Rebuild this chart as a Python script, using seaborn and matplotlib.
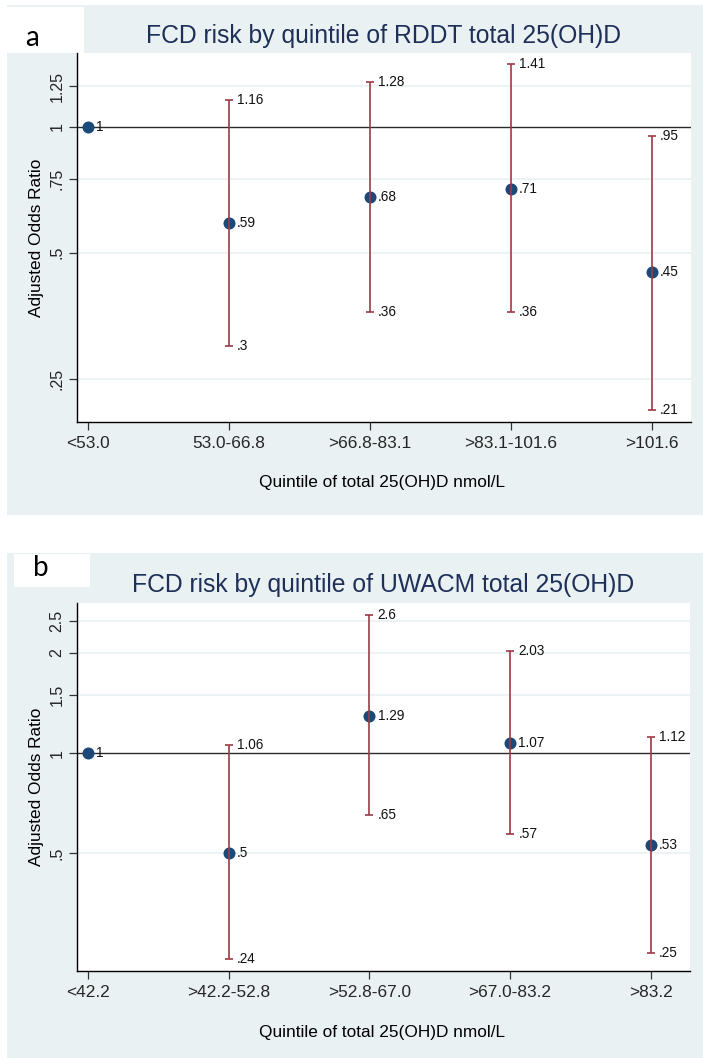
import numpy as np
import pandas as pd
import matplotlib
matplotlib.use("Agg")
import matplotlib.pyplot as plt
from matplotlib.patches import Rectangle
import seaborn as sns

# ---- data -------------------------------------------------------------
cats_a = ["<53.0", "53.0-66.8", ">66.8-83.1", ">83.1-101.6", ">101.6"]
or_a = [1.0, 0.59, 0.68, 0.71, 0.45]
lo_a = [None, 0.30, 0.36, 0.36, 0.21]
hi_a = [None, 1.16, 1.28, 1.41, 0.95]
lbl_or_a = ["1", ".59", ".68", ".71", ".45"]
lbl_lo_a = [None, ".3", ".36", ".36", ".21"]
lbl_hi_a = [None, "1.16", "1.28", "1.41", ".95"]
yticks_a = [0.25, 0.5, 0.75, 1.0, 1.25]
yticklabels_a = [".25", ".5", ".75", "1", "1.25"]

cats_b = ["<42.2", ">42.2-52.8", ">52.8-67.0", ">67.0-83.2", ">83.2"]
or_b = [1.0, 0.50, 1.29, 1.07, 0.53]
lo_b = [None, 0.24, 0.65, 0.57, 0.25]
hi_b = [None, 1.06, 2.60, 2.03, 1.12]
lbl_or_b = ["1", ".5", "1.29", "1.07", ".53"]
lbl_lo_b = [None, ".24", ".65", ".57", ".25"]
lbl_hi_b = [None, "1.06", "2.6", "2.03", "1.12"]
yticks_b = [0.5, 1.0, 1.5, 2.0, 2.5]
yticklabels_b = [".5", "1", "1.5", "2", "2.5"]

titles = ["FCD risk by quintile of RDDT total 25(OH)D",
          "FCD risk by quintile of UWACM total 25(OH)D"]
panel_tags = ["a", "b"]
xlabel = "Quintile of total 25(OH)D nmol/L"
ylabel = "Adjusted Odds Ratio"

# ---- style ------------------------------------------------------------
sns.set_theme(style="white")
plt.rcParams["font.family"] = ["Liberation Sans", "DejaVu Sans"]

BG = "#EAF1F3"
GRID = "#EBF2F5"
NAVY = "#1B4A78"
MAROON = "#9E3A46"
TITLE_C = "#1E2F58"

W, H = 703, 1059
fig = plt.figure(figsize=(W / 100, H / 100), dpi=100)
fig.patch.set_facecolor("white")


def fx(px):
    return px / W


def fy(py):
    return 1 - py / H


def add_rect(x0, y0, x1, y1, color, z):
    fig.patches.append(Rectangle((fx(x0), fy(y1)), fx(x1) - fx(x0), fy(y0) - fy(y1),
                                 transform=fig.transFigure, facecolor=color,
                                 edgecolor="none", zorder=z))


panels = [
    dict(cats=cats_a, orr=or_a, lo=lo_a, hi=hi_a, l_or=lbl_or_a, l_lo=lbl_lo_a,
         l_hi=lbl_hi_a, yt=yticks_a, ytl=yticklabels_a, ylim=(0.197, 1.50),
         bg=(7, 5, 703, 515), tagbox=(7, 7, 84, 53), tagxy=(32, 38),
         ax=(77, 53, 691, 422), title_y=36, xlabel_y=483),
    dict(cats=cats_b, orr=or_b, lo=lo_b, hi=hi_b, l_or=lbl_or_b, l_lo=lbl_lo_b,
         l_hi=lbl_hi_b, yt=yticks_b, ytl=yticklabels_b, ylim=(0.221, 2.83),
         bg=(7, 553, 703, 1058), tagbox=(14, 554, 90, 587), tagxy=(41, 568),
         ax=(77, 603, 690, 971), title_y=585, xlabel_y=1033),
]

for i, p in enumerate(panels):
    add_rect(*p["bg"], BG, -10)
    add_rect(*p["tagbox"], "white", -9)
    fig.text(fx(p["tagxy"][0]), fy(p["tagxy"][1]), panel_tags[i], ha="center",
             va="center", fontsize=20, family=["Lato", "DejaVu Sans"], color="black")
    fig.text(fx(383), fy(p["title_y"]), titles[i], ha="center", va="center",
             fontsize=17.8, color=TITLE_C)

    x0, y0, x1, y1 = p["ax"]
    ax = fig.add_axes([fx(x0), fy(y1), fx(x1) - fx(x0), fy(y0) - fy(y1)])
    ax.set_facecolor("white")

    df = pd.DataFrame({"pos": np.arange(len(p["cats"])), "or": p["orr"]})
    ax.set_yscale("log")

    # grid lines at tick values and reference line at OR = 1
    for t in p["yt"]:
        if t != 1.0:
            ax.axhline(t, color=GRID, lw=1.3, zorder=1)
    ax.axhline(1.0, color="#2b2b2b", lw=1.0, zorder=2)

    sns.scatterplot(data=df, x="pos", y="or", ax=ax, s=75, color=NAVY,
                    edgecolor=NAVY, linewidth=0, zorder=3, legend=False)

    # confidence intervals
    for j, (lo, hi) in enumerate(zip(p["lo"], p["hi"])):
        if lo is None:
            continue
        ax.errorbar([j], [p["orr"][j]],
                    yerr=[[p["orr"][j] - lo], [hi - p["orr"][j]]],
                    fmt="none", ecolor=MAROON, elinewidth=1.2, capsize=2.9,
                    capthick=1.2, zorder=4)
        ax.annotate(p["l_hi"][j], (j, hi), xytext=(6, 0), textcoords="offset points",
                    ha="left", va="center", fontsize=9.8, color="#111111")
        ax.annotate(p["l_lo"][j], (j, lo), xytext=(6, 0), textcoords="offset points",
                    ha="left", va="center", fontsize=9.8, color="#111111")
    for j, v in enumerate(p["orr"]):
        ax.annotate(p["l_or"][j], (j, v), xytext=(6, 0), textcoords="offset points",
                    ha="left", va="center", fontsize=9.8, color="#111111")

    ax.set_ylim(*p["ylim"])
    ax.set_xlim(-0.078, 4.28)
    ax.set_yticks(p["yt"])
    ax.set_yticklabels(p["ytl"], rotation=90, va="center")
    ax.minorticks_off()
    ax.set_xticks(range(len(p["cats"])))
    ax.set_xticklabels(p["cats"])
    ax.tick_params(axis="x", labelsize=12.4, length=6, width=0.9, pad=4,
                   color="#333333", bottom=True)
    ax.tick_params(axis="y", labelsize=11.5, length=6, width=0.9, pad=3,
                   color="#333333", left=True)
    ax.set_xlabel("")
    ax.set_ylabel("")
    for s in ["top", "right"]:
        ax.spines[s].set_visible(False)
    for s in ["left", "bottom"]:
        ax.spines[s].set_color("black")
        ax.spines[s].set_linewidth(1.0)

    fig.text(fx(382), fy(p["xlabel_y"]), xlabel, ha="center", va="center",
             fontsize=12.4, color="black")
    fig.text(fx(37), fy((y0 + y1) / 2), ylabel, ha="center", va="center",
             rotation=90, fontsize=12.4, color="black")

fig.savefig("out.png", dpi=100, facecolor="white")
